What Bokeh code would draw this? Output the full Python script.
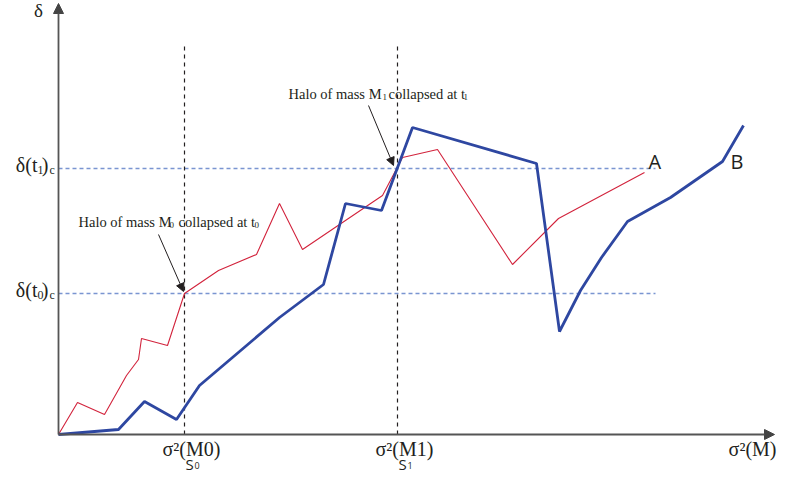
from bokeh.plotting import figure
from bokeh.models import Range1d, Arrow, NormalHead
from bokeh.core.properties import value
from bokeh.embed import file_html
from bokeh.resources import INLINE

# ---- data (arbitrary units: x = sigma^2(M), y = delta) ----
red_x = [0, 19, 46, 68, 80, 83, 109, 126, 160, 198, 221, 244, 324, 344, 379, 454, 500, 586]
red_y = [0, 32, 20, 59, 75, 96, 89, 141, 164, 180, 231, 185, 239, 277, 285, 170, 216, 262]
blue_x = [0, 60, 86, 118, 141, 221, 265, 287, 323, 354, 478, 501, 522, 543, 569, 612, 664, 685]
blue_y = [0, 5, 33, 15, 49, 117, 150, 231, 224, 307, 271, 103, 144, 177, 213, 237, 273, 309]
delta_c = [141, 266]          # delta(t0)_c, delta(t1)_c
s_marks = [126, 339]          # S0, S1
threshold_end = 597
vline_top = 390

INK = "#231f20"
SERIF = value("Liberation Serif")
SANS = value("Open Sans")
TY = 6  # baseline correction for text placement

p = figure(width=778, height=474, x_range=Range1d(-58, 720), y_range=Range1d(-40, 434),
           output_backend="svg", toolbar_location=None,
           x_axis_location=None, y_axis_location=None, min_border=0)
p.grid.visible = False
p.outline_line_color = None
p.background_fill_color = "white"

# threshold lines
for d in delta_c:
    p.line([0, threshold_end], [d, d], line_color="#7a95d1", line_width=1.3, line_dash="4 3")
# vertical dashed lines at S0, S1
for s in s_marks:
    p.line([s, s], [0, vline_top], line_color=INK, line_width=1.2, line_dash="4 4")

# random walks
p.line(red_x, red_y, line_color="#d2233c", line_width=1.1)
p.line(blue_x, blue_y, line_color="#2e47a1", line_width=2.8)

# axes with arrows
p.add_layout(Arrow(end=NormalHead(size=10, fill_color="#444444", line_color="#444444"),
                   x_start=0, y_start=0, x_end=0, y_end=431, line_color="#555555", line_width=1.8))
p.add_layout(Arrow(end=NormalHead(size=10, fill_color="#444444", line_color="#444444"),
                   x_start=0, y_start=0, x_end=716, y_end=0, line_color="#555555", line_width=1.8))


def txt(x, y, s, size, font=SERIF, align="left"):
    p.text(x=[x], y=[y + TY], text=[s], text_font=font, text_font_size=size,
           text_align=align, text_baseline="alphabetic", text_color=INK)


# y labels
txt(-20, 418, "δ", "19px", align="center")
for d, sub in zip(delta_c, ["0", "1"]):
    txt(-21, d - 2, "δ(t", "20px", align="right")
    txt(-21, d - 7, sub, "12px")
    txt(-10, d - 2, ")", "20px", align="right")
    txt(-9, d - 7, "c", "12px")

# x labels
for s, sub, lab in zip(s_marks, ["0", "1"], ["σ²(M0)", "σ²(M1)"]):
    txt(s + 7, -20, lab, "20px", align="center")
    txt(s + 1, -35, "S", "15px", font=SANS)
    txt(s + 10, -37, sub, "9px", font=SANS)
txt(718, -20, "σ²(M)", "20px", align="right")

# curve labels
txt(590, 267, "A", "20px", font=SANS)
txt(672, 267, "B", "20px", font=SANS)

# annotations
txt(20, 207, "Halo of mass M", "14.5px")
txt(111, 204, "0", "9px")
txt(120, 207, "collapsed at t", "14.5px")
txt(196, 204, "0", "9px")
p.add_layout(Arrow(end=NormalHead(size=8, fill_color=INK, line_color=INK),
                   x_start=100, y_start=200, x_end=125, y_end=143, line_color=INK, line_width=1))

txt(230, 335, "Halo of mass M", "14.5px")
txt(324, 332, "1", "9px")
txt(330, 335, "collapsed at t", "14.5px")
txt(405, 332, "1", "9px")
p.add_layout(Arrow(end=NormalHead(size=8, fill_color=INK, line_color=INK),
                   x_start=310, y_start=329, x_end=335, y_end=269, line_color=INK, line_width=1))

open("out.html", "w").write(file_html(p, INLINE))
